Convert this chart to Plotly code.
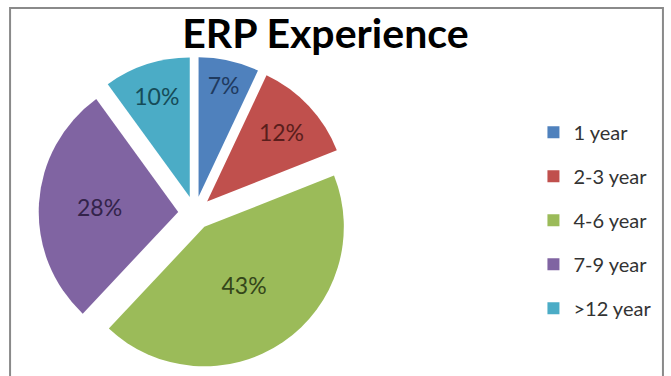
import plotly.graph_objects as go

categories = ["1 year", "2-3 year", "4-6 year", "7-9 year", ">12 year"]
values = [7, 12, 43, 28, 10]
colors = ["#4F81BD", "#C0504D", "#9BBB59", "#8064A2", "#4BACC6"]
text_colors = ["#1F3A5F", "#5A1E1C", "#34461A", "#33234A", "#164B58"]

fig = go.Figure()
fig.add_trace(go.Pie(
    labels=categories, values=values, sort=False, direction="clockwise",
    rotation=0, pull=[0.12] * len(values),
    marker=dict(colors=colors, line=dict(width=0)),
    textinfo="percent", texttemplate="%{percent:.0%}",
    textposition="inside", insidetextorientation="horizontal",
    textfont=dict(family="Lato", size=23, color=text_colors),
    showlegend=False,
    domain=dict(x=[0.048, 0.533], y=[0.018, 0.849]),
))

for i, (c, col) in enumerate(zip(categories, colors)):
    fig.add_trace(go.Scatter(
        x=[None], y=[None], mode="markers", name=c, legendgroup=c,
        marker=dict(symbol="square", size=12, color=col),
    ))

fig.update_layout(
    width=671, height=376,
    margin=dict(l=0, r=0, t=0, b=0),
    paper_bgcolor="white", plot_bgcolor="white",
    xaxis=dict(visible=False), yaxis=dict(visible=False),
    title=dict(text="<b>ERP Experience</b>", x=0.485, xanchor="center",
               y=0.91, yanchor="middle",
               font=dict(family="Lato", size=41, color="#000000")),
    legend=dict(x=0.795, y=0.70, xanchor="left", yanchor="top",
                tracegroupgap=15, font=dict(family="Lato", size=20, color="#333333"),
                bgcolor="rgba(0,0,0,0)"),
    shapes=[dict(type="rect", xref="paper", yref="paper",
                 x0=0.015, x1=0.988, y0=-0.1, y1=0.979,
                 line=dict(color="#8a8a8a", width=2), fillcolor="rgba(0,0,0,0)")],
)

fig.write_html("out.html")
